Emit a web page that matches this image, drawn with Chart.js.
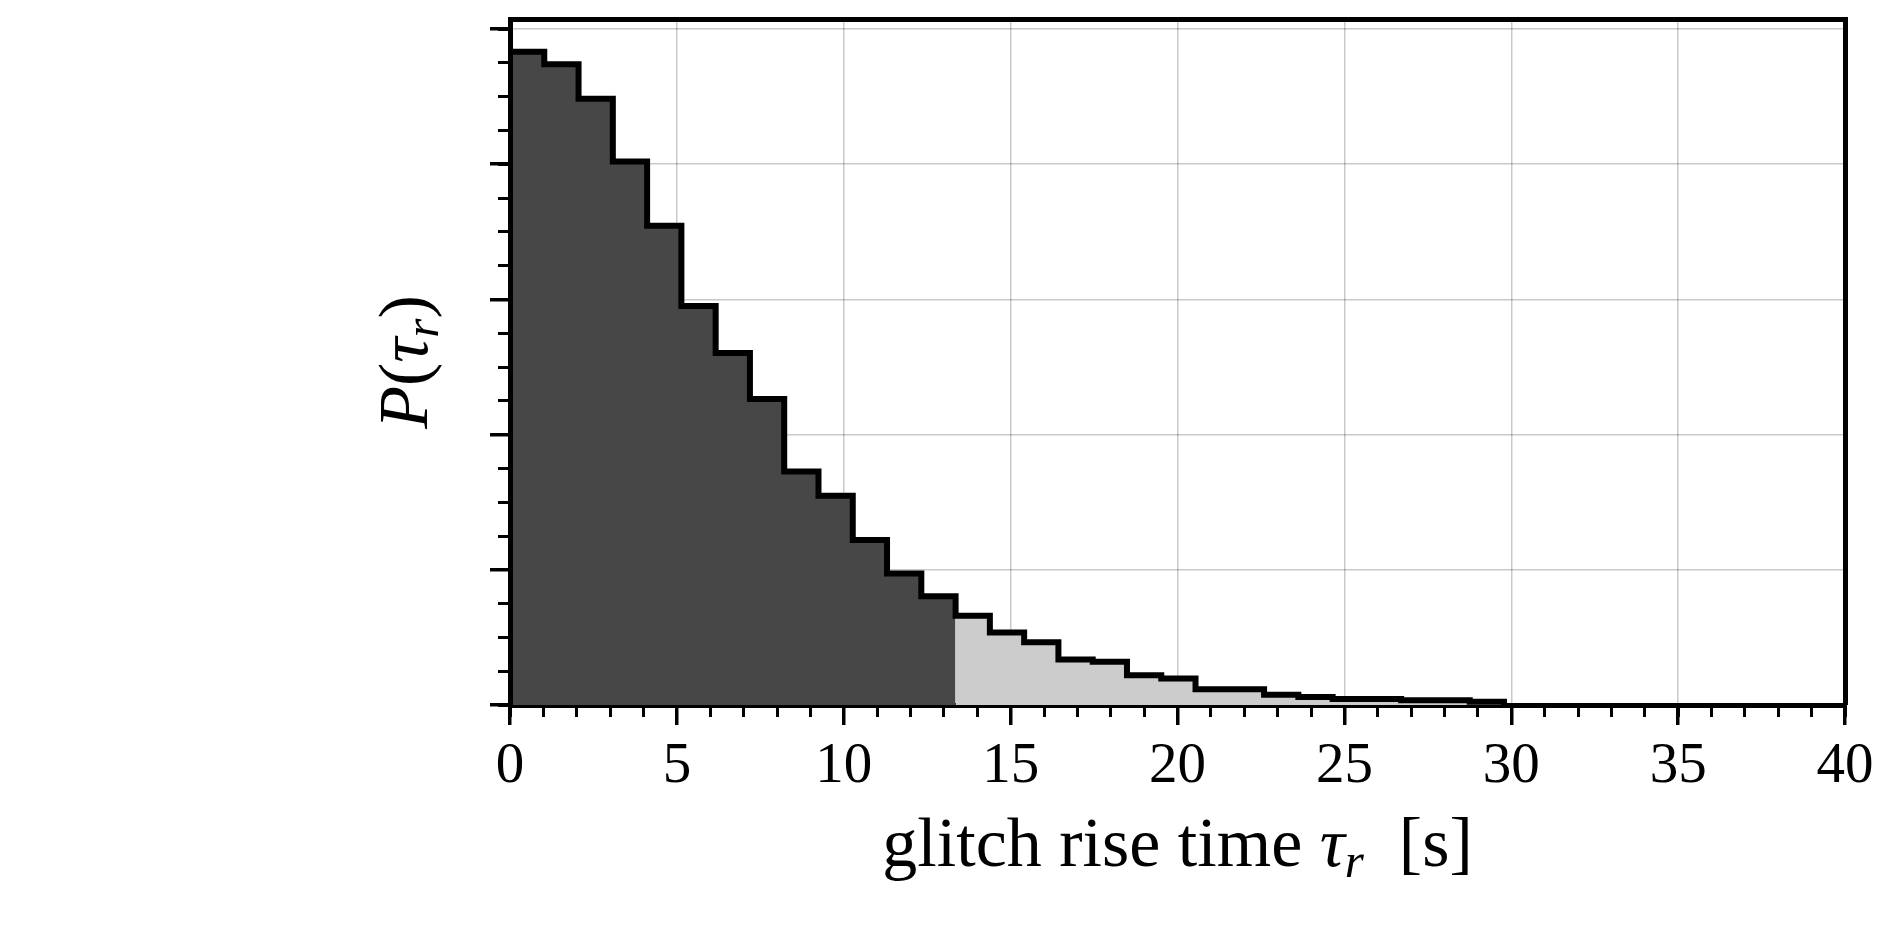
<!DOCTYPE html>
<html>
<head>
<meta charset="utf-8">
<script src="https://cdn.jsdelivr.net/npm/chart.js@4.4.1/dist/chart.umd.min.js"></script>
<style>
  html, body { margin: 0; padding: 0; background: #ffffff; }
  canvas { display: block; }
</style>
</head>
<body>
<canvas id="chart" width="1902" height="940"></canvas>
<script>
// ---- data ----
// histogram bin edges of the glitch rise time [s]
const binEdges = [0, 1.027, 2.054, 3.081, 4.108, 5.135, 6.162, 7.189, 8.216, 9.243,
  10.27, 11.297, 12.324, 13.351, 14.378, 15.405, 16.432, 17.459, 18.486, 19.513,
  20.54, 21.567, 22.594, 23.621, 24.648, 25.675, 26.702, 27.729, 28.756, 29.783];
// probability density P(tau_r) per bin
const density = [0.1208, 0.1185, 0.1121, 0.1005, 0.0886, 0.0738, 0.0651, 0.0566, 0.0432, 0.0387,
  0.0305, 0.0243, 0.0201, 0.0165, 0.0134, 0.0116, 0.0084, 0.0080, 0.0055, 0.0049,
  0.0029, 0.0029, 0.0019, 0.0015, 0.0011, 0.0011, 0.0009, 0.0009, 0.0006];
// bins before this index are drawn dark, the rest light
const darkBinCount = 13;
const xTickValues = [0, 5, 10, 15, 20, 25, 30, 35, 40];
const xTickLabels = ['0', '5', '10', '15', '20', '25', '30', '35', '40'];
const yGridValues = [0, 0.025, 0.05, 0.075, 0.1, 0.125];
const xRange = [0, 40];
const yRange = [0, 0.12685];
const xMinorStep = 1;
const yMinorStep = 0.00625;
const xLabelParts = [
  { text: 'glitch rise time ', italic: false },
  { text: 'τ', italic: true },
  { text: 'r', italic: true, sub: true },
  { text: '  [s]', italic: false }
];
const yLabelParts = [
  { text: 'P', italic: true },
  { text: '(', italic: false },
  { text: 'τ', italic: true },
  { text: 'r', italic: true, sub: true },
  { text: ')', italic: false }
];

// ---- build step-series from the arrays ----
function stepPoints(from, to) {
  const pts = [];
  for (let i = from; i < to; i++) pts.push({ x: binEdges[i], y: density[i] });
  pts.push({ x: binEdges[to], y: density[to - 1] });
  return pts;
}
const darkPts = stepPoints(0, darkBinCount);
const lightPts = stepPoints(darkBinCount, density.length);
const outlinePts = [{ x: binEdges[0], y: 0 }].concat(stepPoints(0, density.length),
  [{ x: binEdges[density.length], y: 0 }]);

const SERIF = "'Liberation Serif', 'DejaVu Serif', serif";
const BLACK = '#000000';
const GRID = 'rgba(0,0,0,0.21)';

function drawParts(ctx, parts, size) {
  const fontFor = p => (p.italic ? 'italic ' : '') + Math.round(size * (p.sub ? 0.7 : 1)) + 'px ' + SERIF;
  let total = 0;
  const widths = parts.map(p => { ctx.font = fontFor(p); const w = ctx.measureText(p.text).width; total += w; return w; });
  let x = -total / 2;
  parts.forEach((p, i) => {
    ctx.font = fontFor(p);
    ctx.fillText(p.text, x, p.sub ? size * 0.16 : 0);
    x += widths[i];
  });
}

const axisLabels = {
  id: 'axisLabels',
  afterDraw(chart) {
    const { ctx, chartArea } = chart;
    ctx.save();
    ctx.fillStyle = BLACK;
    ctx.textAlign = 'left';
    ctx.textBaseline = 'alphabetic';
    ctx.save();
    ctx.translate((chartArea.left + chartArea.right) / 2, 866);
    drawParts(ctx, xLabelParts, 70);
    ctx.restore();
    ctx.save();
    ctx.translate(427, (chartArea.top + chartArea.bottom) / 2);
    ctx.rotate(-Math.PI / 2);
    drawParts(ctx, yLabelParts, 70);
    ctx.restore();
    ctx.restore();
  }
};

new Chart(document.getElementById('chart'), {
  type: 'line',
  data: {
    datasets: [
      { data: darkPts, stepped: true, fill: 'origin', backgroundColor: '#474747',
        borderWidth: 0, pointRadius: 0, order: 3 },
      { data: lightPts, stepped: true, fill: 'origin', backgroundColor: '#cccccc',
        borderWidth: 0, pointRadius: 0, order: 2 },
      { data: outlinePts, stepped: true, fill: false, borderColor: BLACK, borderWidth: 6,
        borderJoinStyle: 'miter', borderCapStyle: 'butt', pointRadius: 0, order: 1 }
    ]
  },
  options: {
    responsive: false,
    animation: false,
    events: [],
    layout: { padding: { left: 0, right: 57, top: 19, bottom: 0 } },
    plugins: { legend: { display: false }, tooltip: { enabled: false } },
    scales: {
      x: {
        type: 'linear', position: 'bottom', min: xRange[0], max: xRange[1], z: 1,
        afterBuildTicks: s => { s.ticks = xTickValues.map(v => ({ value: v })); },
        afterFit: s => { s.height = 235; },
        ticks: {
          callback: v => xTickLabels[xTickValues.indexOf(v)],
          font: { family: SERIF, size: 57 }, color: BLACK, padding: 8,
          maxRotation: 0, autoSkip: false
        },
        grid: { color: GRID, lineWidth: 1.5, tickLength: 20, tickColor: BLACK, tickWidth: 3.5 },
        border: { display: true, color: BLACK, width: 5 }
      },
      xMinor: {
        type: 'linear', position: { y: 0 }, min: xRange[0], max: xRange[1],
        ticks: { display: false, stepSize: xMinorStep, includeBounds: false },
        grid: { drawOnChartArea: false, tickLength: 12, tickColor: BLACK, tickWidth: 3 },
        border: { display: false }
      },
      xTop: {
        type: 'linear', position: 'top', min: xRange[0], max: xRange[1], z: 1,
        afterFit: s => { s.height = 0; },
        ticks: { display: false },
        grid: { drawOnChartArea: false, drawTicks: false, lineWidth: 0 },
        border: { display: true, color: BLACK, width: 5 }
      },
      y: {
        type: 'linear', position: 'left', min: yRange[0], max: yRange[1], z: 1,
        afterBuildTicks: s => { s.ticks = yGridValues.map(v => ({ value: v })); },
        afterFit: s => { s.width = 510; },
        ticks: { display: false },
        grid: { color: GRID, lineWidth: 1.5, tickLength: 20, tickColor: BLACK, tickWidth: 3.5 },
        border: { display: true, color: BLACK, width: 5 }
      },
      yMinor: {
        type: 'linear', position: { x: 0 }, min: yRange[0], max: yRange[1],
        ticks: { display: false, stepSize: yMinorStep, includeBounds: false },
        grid: { drawOnChartArea: false, tickLength: 12, tickColor: BLACK, tickWidth: 3 },
        border: { display: false }
      },
      yRight: {
        type: 'linear', position: 'right', min: yRange[0], max: yRange[1], z: 1,
        afterFit: s => { s.width = 0; },
        ticks: { display: false },
        grid: { drawOnChartArea: false, drawTicks: false, lineWidth: 0 },
        border: { display: true, color: BLACK, width: 5 }
      }
    }
  },
  plugins: [axisLabels]
});
</script>
</body>
</html>
